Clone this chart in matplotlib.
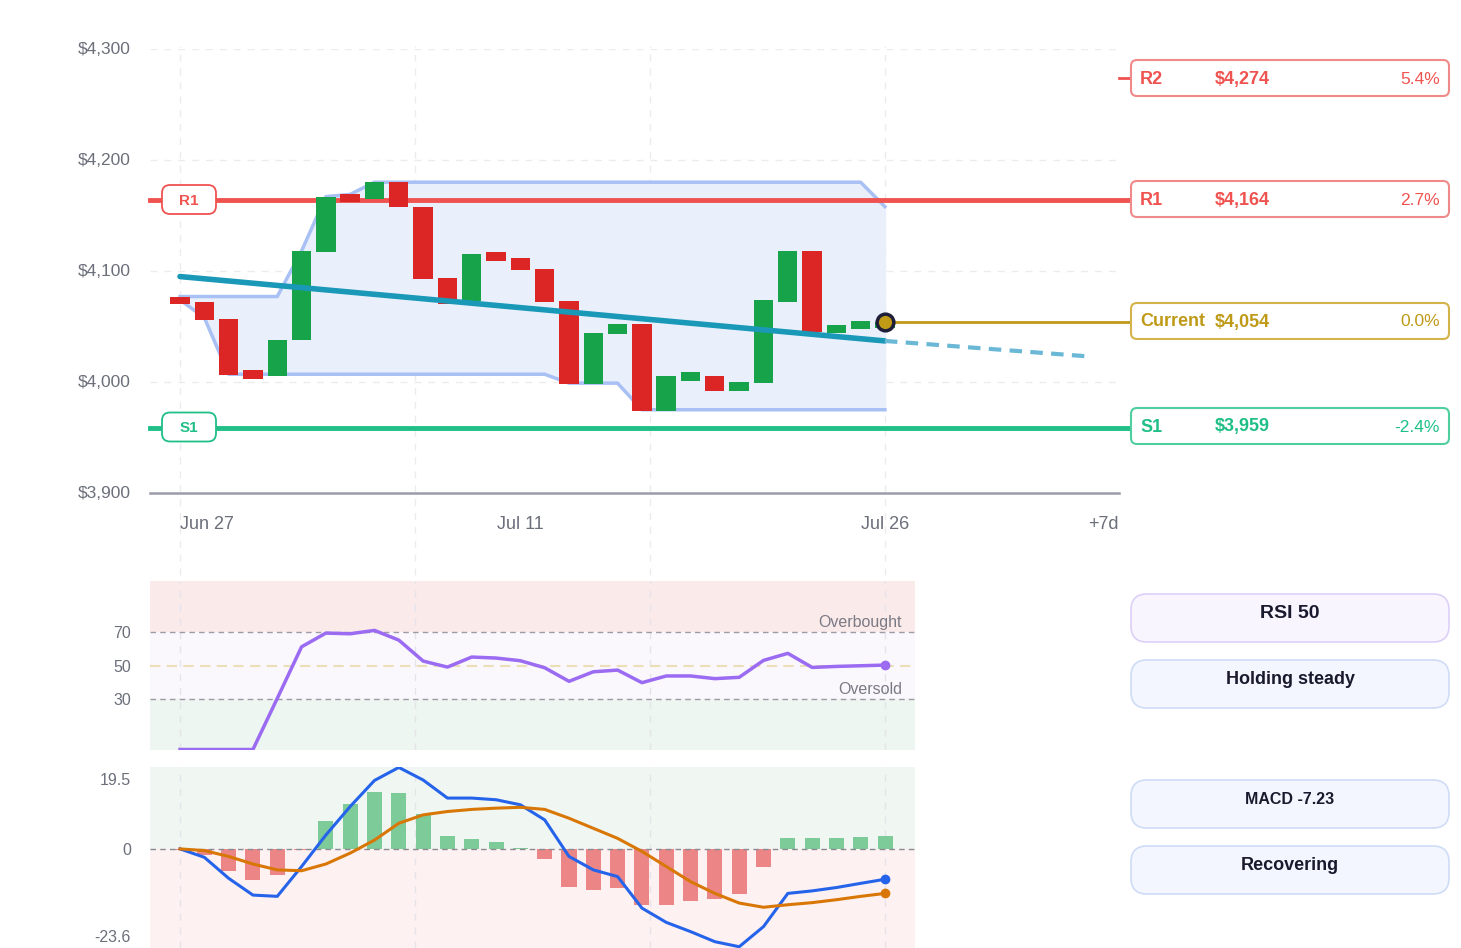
import numpy as np
import matplotlib
matplotlib.use("Agg")
import matplotlib.pyplot as plt
from matplotlib.patches import FancyBboxPatch

plt.rcParams['font.family'] = ['Liberation Sans', 'DejaVu Sans']

##### DATA #####
days = list(range(30))
opens = [4077, 4072, 4057, 4011, 4005, 4038, 4117, 4169, 4165, 4180,
         4158, 4094, 4073, 4117, 4112, 4102, 4073, 3998, 4043, 4052,
         3974, 4001, 4005, 3992, 3999, 4072, 4118, 4044, 4048, 4049]
closes = [4070, 4056, 4006, 4003, 4038, 4118, 4167, 4162, 4180, 4158,
          4093, 4070, 4115, 4109, 4101, 4072, 3998, 4044, 4052, 3974,
          4005, 4009, 3992, 4000, 4074, 4118, 4045, 4051, 4055, 4054]
chan_upper = [4077, 4077, 4077, 4077, 4077, 4118, 4167, 4169, 4180, 4180,
              4180, 4180, 4180, 4180, 4180, 4180, 4180, 4180, 4180, 4180,
              4180, 4180, 4180, 4180, 4180, 4180, 4180, 4180, 4180, 4158]
chan_lower = [4074, 4058, 4007, 4007, 4007, 4007, 4007, 4007, 4007, 4007,
              4007, 4007, 4007, 4007, 4007, 4007, 3999, 3999, 3999, 3975,
              3975, 3975, 3975, 3975, 3975, 3975, 3975, 3975, 3975, 3975]
trend_x = [0, 29]
trend_y = [4095, 4037]
proj_x = [29, 37.4]
proj_y = [4037, 4023]

levels = ['R2', 'R1', 'Current', 'S1']
level_price = [4274, 4164, 4054, 3959]
level_pct = ['5.4%', '2.7%', '0.0%', '-2.4%']

price_ticks = [3900, 4000, 4100, 4200, 4300]
date_labels = ['Jun 27', 'Jul 11', 'Jul 26', '+7d']
date_pos = [0, 14, 29, 38.63]

rsi = [0, 0, 0, 0, 30.5, 61.3, 69.5, 69.1, 71.1, 65.3,
       52.8, 49.2, 55.2, 54.6, 53.0, 48.8, 40.7, 46.4, 47.4, 39.9,
       43.9, 43.9, 42.3, 43.1, 53.2, 57.4, 49.0, 49.6, 50.0, 50.4]
macd = [0, -2.0, -7.0, -11.0, -11.3, -4.2, 3.3, 10.1, 16.3, 19.4,
        16.4, 12.1, 12.1, 11.7, 10.5, 6.9, -1.8, -5.0, -6.6, -14.1,
        -17.5, -19.7, -22.1, -23.3, -18.5, -10.6, -10.0, -9.2, -8.2, -7.23]
signal = [0, -0.4, -1.8, -3.6, -5.0, -5.2, -3.6, -1.0, 2.1, 6.1,
          8.1, 8.9, 9.4, 9.7, 9.9, 9.4, 7.3, 4.9, 2.5, -0.6,
          -4.2, -7.8, -10.6, -12.9, -13.9, -13.3, -12.8, -12.1, -11.3, -10.6]
hist = [-0.3, -1.4, -5.2, -7.4, -6.2, -0.2, 6.7, 10.7, 13.6, 13.3,
        8.3, 3.1, 2.4, 1.6, 0.3, -2.5, -9.0, -9.8, -9.2, -13.3,
        -13.3, -12.5, -12.0, -10.7, -4.4, 2.6, 2.5, 2.6, 2.9, 3.1]

##### COLORS #####
UP = '#16a34a'
DOWN = '#dc2626'
RED = '#ef5350'
GREEN = '#1fbf87'
GOLD = '#bf9a17'
GRAYTXT = '#6b6f7a'
GRID = '#ececef'

W, H = 1461, 948
fig = plt.figure(figsize=(W / 100, H / 100), dpi=100)


def px_axes(x0, y0, x1, y1):
    return fig.add_axes([x0 / W, 1 - y1 / H, (x1 - x0) / W, (y1 - y0) / H])


##### MAIN PRICE PANEL #####
ax = px_axes(150, 49, 1119, 493)
ax.set_xlim(-1.234, 38.63)
ax.set_ylim(3900, 4300)
for s in ax.spines.values():
    s.set_visible(False)
ax.set_xticks([])
ax.set_yticks([])

for p in price_ticks:
    ax.plot([-1.234, 38.63], [p, p], color=GRID, lw=1, ls=(0, (5, 5)), zorder=0)
    ax.text(-2.02, p, f"${p:,}", ha='right', va='center', fontsize=12.5, color=GRAYTXT)
ax.plot([-1.234, 38.63], [3900, 3900], color='#9a9ca8', lw=1.8, zorder=3, clip_on=False)

for gx in [0, 9.667, 19.333, 29]:
    ax.plot([gx, gx], [3826, 4303], color=GRID, lw=1, ls=(0, (5, 5)), zorder=0, clip_on=False)

ax.text(date_pos[0], 3872, date_labels[0], ha='left', va='center', fontsize=13, color=GRAYTXT)
ax.text(date_pos[1], 3872, date_labels[1], ha='center', va='center', fontsize=13, color=GRAYTXT)
ax.text(date_pos[2], 3872, date_labels[2], ha='center', va='center', fontsize=13, color=GRAYTXT)
ax.text(date_pos[3], 3872, date_labels[3], ha='right', va='center', fontsize=13, color=GRAYTXT)

# channel
ax.fill_between(days, chan_lower, chan_upper, color='#e9f0fc', zorder=1)
ax.plot(days, chan_upper, color='#a8c0f4', lw=2.5, zorder=2)
ax.plot(days, chan_lower, color='#a8c0f4', lw=2.5, zorder=2)

# support / resistance
ax.plot([-1.234, 39.13], [level_price[1]] * 2, color=RED, lw=3.5, zorder=2, clip_on=False)
ax.plot([-1.234, 39.13], [level_price[3]] * 2, color=GREEN, lw=3.5, zorder=2, clip_on=False)
ax.plot([38.63, 39.13], [level_price[0]] * 2, color=RED, lw=2, clip_on=False)
ax.plot([29, 39.13], [level_price[2]] * 2, color=GOLD, lw=2, zorder=5, clip_on=False)

# candles
for d, o, c in zip(days, opens, closes):
    col = UP if c >= o else DOWN
    ax.bar(d, abs(c - o), bottom=min(o, c), width=0.8, color=col, zorder=4)

# trend
ax.plot(trend_x, trend_y, color='#1a98b8', lw=4, zorder=5, solid_capstyle='round')
ax.plot(proj_x, proj_y, color='#6ab8d6', lw=3, ls=(0, (3, 2)), zorder=5)

ax.plot([29], [closes[-1]], 'o', ms=12, mfc='#c29b16', mec='#1f1f3a', mew=2.5, zorder=6)

##### RSI PANEL #####
ax2 = px_axes(150, 581, 915, 750)
ax2.set_xlim(-1.234, 30.23)
ax2.set_ylim(-0.3, 100.6)
for s in ax2.spines.values():
    s.set_visible(False)
ax2.set_xticks([])
ax2.set_yticks([])
ax2.axhspan(70, 100.6, color='#fbeaea', zorder=0)
ax2.axhspan(30, 70, color='#faf8fd', zorder=0)
ax2.axhspan(-0.3, 30, color='#edf6f0', zorder=0)
for gx in [0, 9.667, 19.333, 29]:
    ax2.axvline(gx, color='#e4e4ea', lw=1, ls=(0, (5, 5)), zorder=1)
ax2.axhline(70, color='#a09aa8', lw=1, ls=(0, (4, 3)), zorder=1)
ax2.axhline(30, color='#a09aa8', lw=1, ls=(0, (4, 3)), zorder=1)
ax2.axhline(50, color='#ecdfb8', lw=1.5, ls=(0, (5, 3)), zorder=1)
for v in [70, 50, 30]:
    ax2.text(-2.02, v - 1, str(v), ha='right', va='center', fontsize=11.5, color=GRAYTXT)
ax2.text(29.7, 71.5, 'Overbought', ha='right', va='bottom', fontsize=11.5, color='#7a7a85')
ax2.text(29.7, 31.5, 'Oversold', ha='right', va='bottom', fontsize=11.5, color='#7a7a85')
ax2.plot(days, rsi, color='#9b6bf2', lw=2.5, zorder=3)
ax2.plot([29], [rsi[-1]], 'o', ms=6, color='#9b6bf2', zorder=4)

##### MACD PANEL #####
ax3 = px_axes(150, 767, 915, 948)
ax3.set_xlim(-1.234, 30.23)
ax3.set_ylim(-23.6, 19.5)
for s in ax3.spines.values():
    s.set_visible(False)
ax3.set_xticks([])
ax3.set_yticks([])
ax3.axhspan(0, 19.5, color='#f0f7f2', zorder=0)
ax3.axhspan(-23.6, 0, color='#fdf1f1', zorder=0)
for gx in [0, 9.667, 19.333, 29]:
    ax3.axvline(gx, color='#e4e4ea', lw=1, ls=(0, (5, 5)), zorder=1)
hcols = ['#7dcb98' if h >= 0 else '#ec8585' for h in hist]
ax3.bar(days, hist, width=0.62, color=hcols, zorder=2)
ax3.axhline(0, color='#8a8a92', lw=1, ls=(0, (4, 3)), zorder=3)
ax3.plot(days, macd, color='#2563eb', lw=2.2, zorder=4)
ax3.plot(days, signal, color='#d97706', lw=2.2, zorder=4)
ax3.plot([29], [macd[-1]], 'o', ms=6, color='#2563eb', zorder=5)
ax3.plot([29], [signal[-1]], 'o', ms=6, color='#d97706', zorder=5)
ax3.text(-2.02, 16.4, '19.5', ha='right', va='center', fontsize=11.5, color=GRAYTXT)
ax3.text(-2.02, -0.5, '0', ha='right', va='center', fontsize=11.5, color=GRAYTXT)
ax3.text(-2.02, -21.2, '-23.6', ha='right', va='center', fontsize=11.5, color=GRAYTXT)

##### OVERLAY (level tags, right-side cards) #####
ov = fig.add_axes([0, 0, 1, 1], zorder=10)
ov.set_xlim(0, W)
ov.set_ylim(H, 0)
ov.axis('off')
ov.patch.set_alpha(0)

# in-chart level tags
for lab, yc, col in [('R1', 199.5, RED), ('S1', 427, GREEN)]:
    ov.add_patch(FancyBboxPatch((162, yc - 14.5), 54, 29,
                                boxstyle='round,pad=0,rounding_size=8',
                                fc='white', ec=col, lw=1.3))
    ov.text(189, yc + 1, lab, ha='center', va='center', fontsize=11, fontweight='bold', color=col)

box_y = [78, 199, 321, 426]
txt_cols = [RED, RED, GOLD, GREEN]
edge_cols = ['#f08a8a', '#f08a8a', '#d4b44a', '#4fcf9f']
for lab, val, pct, yc, tc, ec in zip(levels, level_price, level_pct, box_y, txt_cols, edge_cols):
    ov.add_patch(FancyBboxPatch((1131, yc - 18), 318, 36,
                                boxstyle='round,pad=0,rounding_size=6',
                                fc='white', ec=ec, lw=1.5))
    ov.text(1140, yc + 1, lab, ha='left', va='center', fontsize=13, fontweight='bold', color=tc)
    ov.text(1215, yc + 1, f"${val:,}", ha='left', va='center', fontsize=13, fontweight='bold', color=tc)
    ov.text(1440, yc + 1, pct, ha='right', va='center', fontsize=12.5, color=tc)

pills = [('RSI 50', 618, '#f8f5fe', '#ddd0f8', 14),
         ('Holding steady', 684, '#f3f6fe', '#cfdcf6', 13),
         ('MACD -7.23', 804, '#f3f6fe', '#cfdcf6', 11.5),
         ('Recovering', 870, '#f3f6fe', '#cfdcf6', 13)]
for txt, yc, fc, ec, fs in pills:
    ov.add_patch(FancyBboxPatch((1131, yc - 24), 318, 48,
                                boxstyle='round,pad=0,rounding_size=16',
                                fc=fc, ec=ec, lw=1.2))
    ov.text(1290, yc - 5, txt, ha='center', va='center', fontsize=fs,
            fontweight='bold', color='#1a1a2e')

fig.savefig('out.png', dpi=100, facecolor='white')
